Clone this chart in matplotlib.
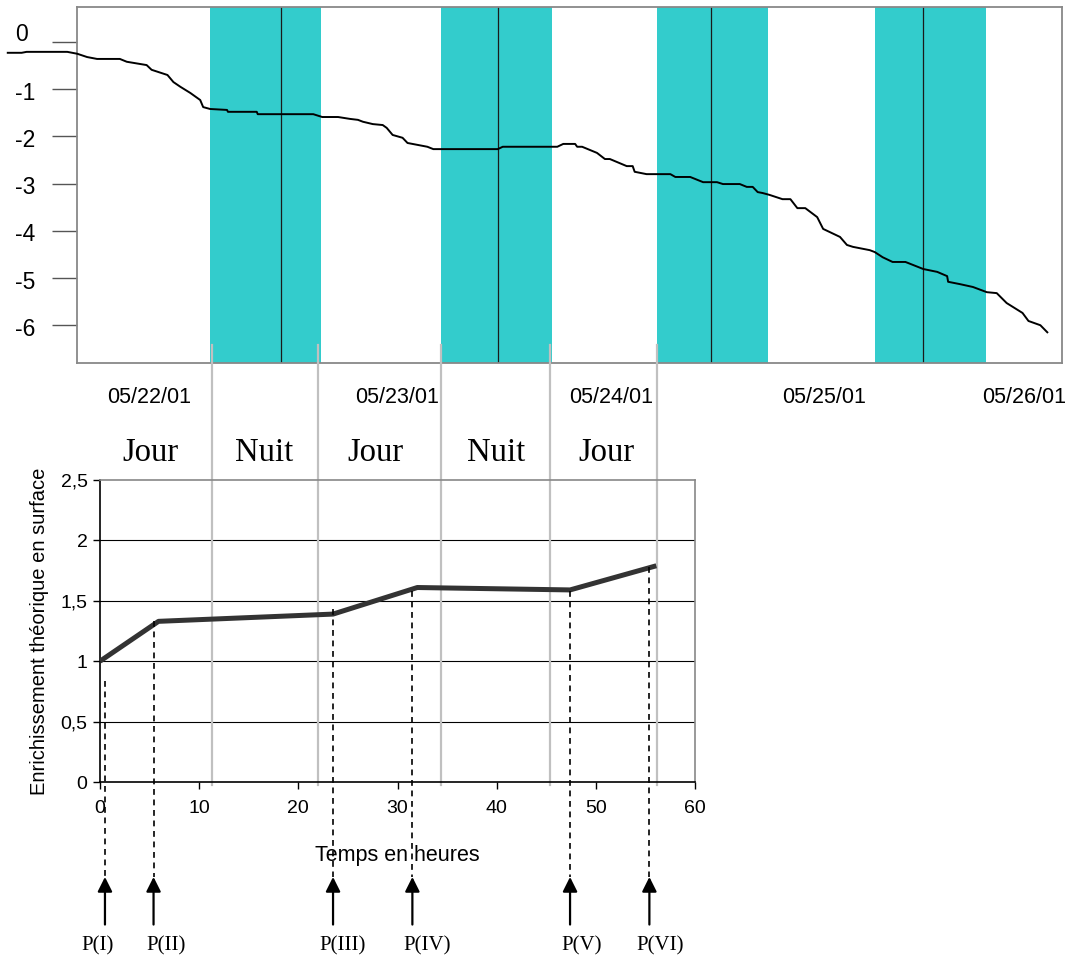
import matplotlib
matplotlib.use("Agg")
import matplotlib.pyplot as plt
import matplotlib.transforms as mtransforms

# ---------------- data: top chart (level vs time, hours) ----------------
top_hours = [-9.3, -7.9, -7.4, -3.3, -2.3, -1.3, -0.3, 2.0, 2.7, 4.7, 5.2, 6.8, 7.4, 8.1,
             9.1, 10.1, 10.4, 11.1, 12.8, 12.9, 15.8, 15.9, 21.5, 22.4, 24.0, 25.2, 26.0,
             26.5, 27.5, 28.5, 28.9, 29.5, 30.5, 31.0, 32.0, 33.0, 33.6, 40.1, 40.6, 46.1,
             46.7, 47.9, 48.1, 48.6, 50.1, 50.9, 51.4, 53.1, 53.7, 53.9, 55.1, 57.5, 58.0,
             59.5, 60.8, 62.2, 62.8, 64.5, 65.2, 65.8, 66.3, 66.8, 67.5, 68.8, 69.6, 70.3,
             71.1, 72.3, 72.9, 74.6, 75.3, 75.9, 77.6, 78.1, 78.9, 79.9, 81.2, 83.0, 84.4,
             85.4, 85.5, 86.7, 88.0, 89.4, 90.4, 91.4, 93.0, 93.6, 94.8, 95.5]
top_values = [-0.23, -0.23, -0.21, -0.21, -0.25, -0.32, -0.36, -0.36, -0.42, -0.49, -0.59,
              -0.70, -0.85, -0.95, -1.08, -1.23, -1.38, -1.42, -1.44, -1.48, -1.48, -1.53,
              -1.53, -1.59, -1.59, -1.63, -1.65, -1.69, -1.74, -1.76, -1.82, -1.97, -2.03,
              -2.14, -2.18, -2.22, -2.27, -2.27, -2.22, -2.22, -2.16, -2.16, -2.22, -2.22,
              -2.35, -2.48, -2.48, -2.63, -2.63, -2.75, -2.80, -2.80, -2.86, -2.86, -2.97,
              -2.97, -3.01, -3.01, -3.07, -3.07, -3.18, -3.20, -3.24, -3.33, -3.33, -3.52,
              -3.52, -3.71, -3.96, -4.13, -4.30, -4.34, -4.41, -4.45, -4.56, -4.66, -4.66,
              -4.81, -4.87, -4.96, -5.08, -5.13, -5.19, -5.30, -5.32, -5.53, -5.74, -5.91,
              -6.00, -6.15]
night_start = [11.1, 34.4, 56.2, 78.1]
night_end = [22.3, 45.6, 67.3, 89.3]
midnight = [18.2, 40.1, 61.6, 83.0]
date_labels = ["05/22/01", "05/23/01", "05/24/01", "05/25/01", "05/26/01"]
date_pos = [5.0, 29.9, 51.5, 73.0, 93.2]
top_yticks = [0, -1, -2, -3, -4, -5, -6]
top_yticklabels = ["0", "-1", "-2", "-3", "-4", "-5", "-6"]

# ---------------- data: bottom chart ----------------
enrich_hours = [0, 5.9, 23.5, 32.0, 47.4, 56.1]
enrich_values = [1.0, 1.33, 1.39, 1.61, 1.59, 1.79]
period_bounds = [11.3, 22.0, 34.4, 45.4, 56.2]
period_labels = ["Jour", "Nuit", "Jour", "Nuit", "Jour"]
period_label_pos = [5.1, 16.6, 27.8, 39.9, 51.1]
sample_names = ["P(I)", "P(II)", "P(III)", "P(IV)", "P(V)", "P(VI)"]
sample_hours = [0.5, 5.4, 23.5, 31.5, 47.4, 55.4]
sample_top = [0.84, 1.33, 1.43, 1.58, 1.58, 1.78]
sample_label_pos = [-0.2, 6.65, 24.5, 33.0, 48.6, 56.5]
bottom_yticks = [0, 0.5, 1, 1.5, 2, 2.5]
bottom_yticklabels = ["0", "0,5", "1", "1,5", "2", "2,5"]
bottom_xticks = [0, 10, 20, 30, 40, 50, 60]

SANS = "Liberation Sans"
SERIF = "Liberation Serif"
plt.rcParams["font.family"] = [SANS, "DejaVu Sans"]

W, H = 1069, 963
fig = plt.figure(figsize=(W / 100, H / 100), dpi=100)
fig.patch.set_facecolor("white")

# ---------------- top chart ----------------
ax1 = fig.add_axes([77 / W, 1 - 363 / H, 985 / W, 356 / H])
ax1.set_xlim(-2.32, 96.98)
ax1.set_ylim(-6.8, 0.74)
for s, e in zip(night_start, night_end):
    ax1.axvspan(s, e, color="#33cccc", lw=0, zorder=1)
for m in midnight:
    ax1.axvline(m, color="#1a1a1a", lw=0.9, zorder=2)
ax1.plot(top_hours, top_values, color="black", lw=1.4, clip_on=False, zorder=3)
ax1.set_xticks([])
ax1.set_yticks(top_yticks)
ax1.set_yticklabels([])
ax1.tick_params(axis="y", direction="out", length=18, width=1, color="#555555")
for sp in ax1.spines.values():
    sp.set_color("#888888")
    sp.set_linewidth(1.3)
ytrans1 = mtransforms.blended_transform_factory(ax1.transAxes, ax1.transData)
for v, lab in zip(top_yticks, top_yticklabels):
    dy = 7 if v == 0 else -4
    tr = ytrans1 + mtransforms.ScaledTranslation(0, dy / 100, fig.dpi_scale_trans)
    ax1.text(-0.063, v, lab, transform=tr, ha="left", va="center", fontsize=16.5)
xtrans1 = mtransforms.blended_transform_factory(ax1.transData, ax1.transAxes)
for p, lab in zip(date_pos, date_labels):
    ax1.text(p, -0.098, lab, transform=xtrans1, ha="center", va="center", fontsize=15.5)

# ---------------- bottom chart ----------------
ax2 = fig.add_axes([100 / W, 1 - 782 / H, 595 / W, 302 / H])
ax2.set_xlim(0, 60)
ax2.set_ylim(0, 2.5)
ax2.set_yticks(bottom_yticks)
ax2.set_yticklabels(bottom_yticklabels)
ax2.set_xticks(bottom_xticks)
ax2.set_xticklabels([str(t) for t in bottom_xticks])
ax2.tick_params(direction="out", length=5, width=1, labelsize=14)
ax2.tick_params(axis="x", pad=8)
ax2.tick_params(axis="y", pad=4)
for v in bottom_yticks[1:-1]:
    ax2.axhline(v, color="black", lw=0.8, zorder=1)
ax2.spines["top"].set_color("#888888")
ax2.spines["right"].set_color("#888888")
for sp in ax2.spines.values():
    sp.set_linewidth(1.2)
ax2.set_xlabel("Temps en heures", fontsize=15.5, labelpad=20)
ax2.set_ylabel("Enrichissement théorique en surface", fontsize=14.5, labelpad=8)

for b in period_bounds:
    ax2.axvline(b, ymin=-0.01, ymax=1.447, color="#c0c0c0", lw=1.6, clip_on=False, zorder=2)

xtrans2 = mtransforms.blended_transform_factory(ax2.transData, ax2.transAxes)
for p, lab in zip(period_label_pos, period_labels):
    ax2.text(p, 1.089, lab, transform=xtrans2, ha="center", va="center",
             fontsize=23.5, family=SERIF)

ax2.plot(enrich_hours, enrich_values, color="#333333", lw=3.6, zorder=4,
         solid_capstyle="butt")

tip_val = -0.786
tail_val = -1.18
label_val = -1.36
for x, top, lx, name in zip(sample_hours, sample_top, sample_label_pos, sample_names):
    ax2.plot([x, x], [top, tip_val], color="black", lw=1.2, ls=(0, (3.5, 2.8)),
             clip_on=False, zorder=5)
    ax2.annotate("", xy=(x, tip_val), xytext=(x, tail_val),
                 arrowprops=dict(arrowstyle="-|>", color="black", lw=1.6,
                                 mutation_scale=22, shrinkA=0, shrinkB=0),
                 annotation_clip=False)
    ax2.text(lx, label_val, name, ha="center", va="center", fontsize=15,
             family=SERIF, clip_on=False)

fig.savefig("out.png", dpi=100)
